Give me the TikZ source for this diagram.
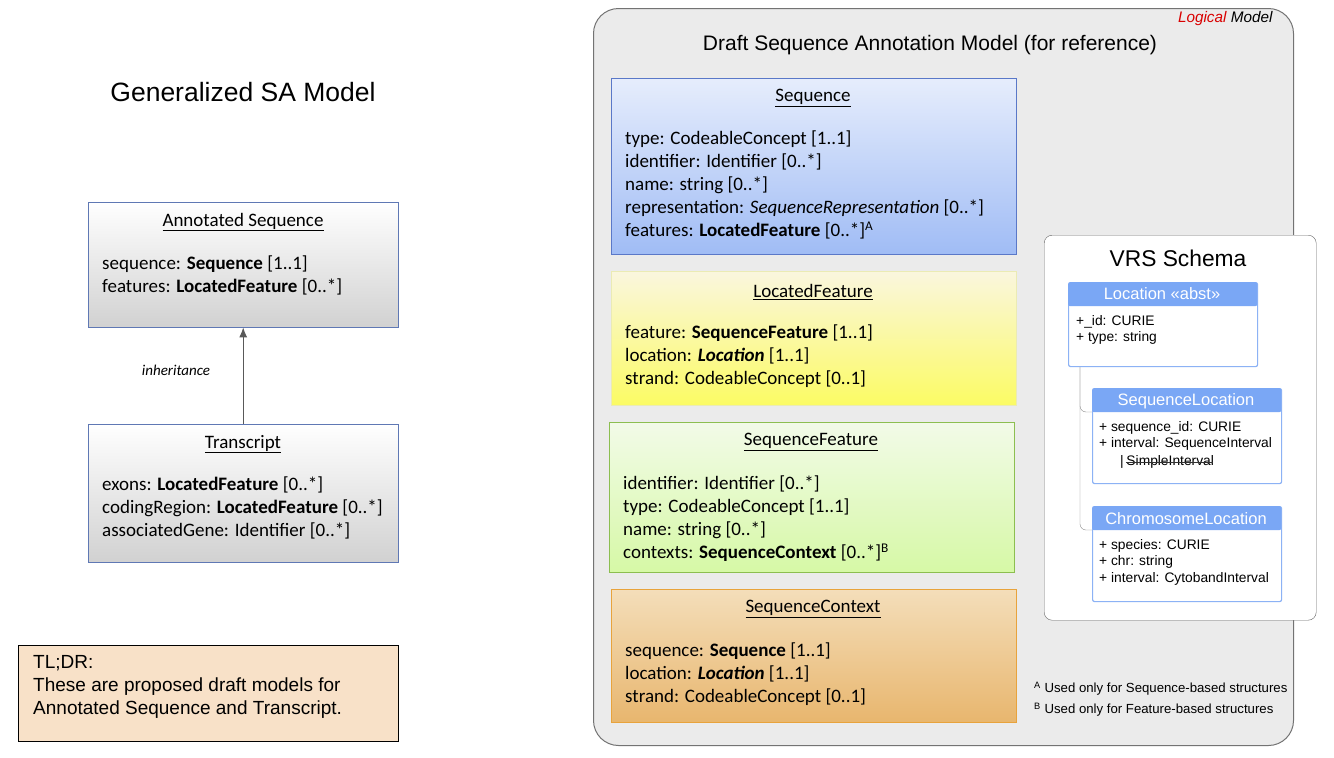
\documentclass[tikz,border=0pt]{standalone}
\usepackage{fontspec}
\usetikzlibrary{arrows.meta}
\setmainfont{Carlito}
\newfontfamily\arial{Liberation Sans}
\begin{document}
\begin{tikzpicture}[x=1pt,y=-1pt,
  umlbox/.style={draw, anchor=north west, inner sep=0pt},
  body/.style={anchor=north west, align=left, inner sep=0pt, font=\fontsize{19}{23}\selectfont},
  ttl/.style={font=\fontsize{19}{22}\selectfont},
  vrsbox/.style={draw=vblue, line width=1.2pt, fill=white, rounded corners=2pt, anchor=north west, inner sep=0pt},
  vhead/.style={fill=vhead, rounded corners=2pt, anchor=north west, inner sep=0pt},
  vtxt/.style={anchor=north west, align=left, inner sep=0pt, font=\arial\fontsize{13.8}{16.5}\selectfont},
  vtitle/.style={text=white, font=\arial\fontsize{16.5}{18}\selectfont}]
\definecolor{vblue}{HTML}{8CB2F5}
\definecolor{vhead}{HTML}{7AA7F5}
\definecolor{slate}{RGB}{95,120,180}
\useasboundingbox (0,0) rectangle (1334,758);
% left side
\node[font=\arial\fontsize{26.5}{30}\selectfont] (gtitle) at (243,92) {Generalized SA Model};
\node[umlbox, draw=slate, top color=white, bottom color=black!18, minimum width=310, minimum height=125] (ann) at (88,202) {};
\node[ttl] (annt) at (243,222) {\underline{Annotated Sequence}};
\node[body] (annb) at (102,256) {sequence: \textbf{Sequence} [1..1]\\features: \textbf{LocatedFeature} [0..*]};
\node[umlbox, draw=slate, top color=white, bottom color=black!18, minimum width=310, minimum height=138] (tr) at (88,424) {};
\node[ttl] (trt) at (243,444) {\underline{Transcript}};
\node[body] (trb) at (102,477) {exons: \textbf{LocatedFeature} [0..*]\\codingRegion: \textbf{LocatedFeature} [0..*]\\associatedGene: Identifier [0..*]};
\draw[black!65, line width=1pt, -{Latex[length=10pt,width=8pt]}] (tr.north) -- (ann.south);
\node[font=\itshape\fontsize{15}{17}\selectfont] (inh) at (176,370) {inheritance};
\node[umlbox, draw=black, fill={rgb,255:red,248;green,225;blue,200}, minimum width=380, minimum height=96] (tldr) at (18,645) {};
\node[anchor=north west, align=left, inner sep=0pt, font=\arial\fontsize{19}{23}\selectfont] (tldrt) at (33,655) {TL;DR:\\These are proposed draft models for\\Annotated Sequence and Transcript.};
% panel
\node[umlbox, draw=black!55, line width=1pt, fill=black!8, rounded corners=25, minimum width=700, minimum height=737] (panel) at (593,8) {};
\node[anchor=east, font=\arial\itshape\fontsize{15.3}{17}\selectfont] (logical) at (1276,19) {\textcolor{red!85!black}{Logical} Model};
\node[font=\arial\fontsize{21}{24}\selectfont] (dtitle) at (930,45) {Draft Sequence Annotation Model (for reference)};
% Sequence
\node[umlbox, draw={rgb,255:red,90;green,120;blue,200}, top color={rgb,255:red,230;green,237;blue,252}, bottom color={rgb,255:red,160;green,188;blue,245}, minimum width=405, minimum height=176] (seq) at (611,78) {};
\node[ttl] (seqt) at (813,98) {\underline{Sequence}};
\node[body] (seqb) at (625,131) {type: CodeableConcept [1..1]\\identifier: Identifier [0..*]\\name: string [0..*]\\representation: \textit{SequenceRepresentation} [0..*]\\features: \textbf{LocatedFeature} [0..*]\textsuperscript{A}};
% LocatedFeature
\node[umlbox, draw={rgb,255:red,235;green,235;blue,180}, top color={rgb,255:red,250;green,246;blue,222}, bottom color={rgb,255:red,251;green,251;blue,100}, minimum width=405, minimum height=134] (lf) at (611,271) {};
\node[ttl] (lft) at (813,292) {\underline{LocatedFeature}};
\node[body] (lfb) at (625,325) {feature: \textbf{SequenceFeature} [1..1]\\location: \textbf{\textit{Location}} [1..1]\\strand: CodeableConcept [0..1]};
% SequenceFeature
\node[umlbox, draw={rgb,255:red,140;green,190;blue,80}, top color={rgb,255:red,242;green,250;blue,232}, bottom color={rgb,255:red,214;green,249;blue,166}, minimum width=405, minimum height=150] (sf) at (609,422) {};
\node[ttl] (sft) at (811,442) {\underline{SequenceFeature}};
\node[body] (sfb) at (623,476) {identifier: Identifier [0..*]\\type: CodeableConcept [1..1]\\name: string [0..*]\\contexts: \textbf{SequenceContext} [0..*]\textsuperscript{B}};
% SequenceContext
\node[umlbox, draw={rgb,255:red,232;green,163;blue,60}, top color={rgb,255:red,244;green,222;blue,186}, bottom color={rgb,255:red,232;green,182;blue,110}, minimum width=405, minimum height=133] (sc) at (611,589) {};
\node[ttl] (sct) at (813,609) {\underline{SequenceContext}};
\node[body] (scb) at (625,643) {sequence: \textbf{Sequence} [1..1]\\location: \textbf{\textit{Location}} [1..1]\\strand: CodeableConcept [0..1]};
% footnotes
\node[anchor=west, font=\arial\fontsize{13.2}{15}\selectfont, inner sep=0pt] (fnA) at (1034,689) {\textsuperscript{A} Used only for Sequence-based structures};
\node[anchor=west, font=\arial\fontsize{13.2}{15}\selectfont, inner sep=0pt] (fnB) at (1034,710) {\textsuperscript{B} Used only for Feature-based structures};
% VRS
\node[umlbox, draw=black!60, fill=white, rounded corners=8, minimum width=272, minimum height=385] (vrs) at (1044,235) {};
\node[font=\arial\fontsize{22.8}{26}\selectfont] (vrst) at (1178,258) {VRS Schema};
\draw[black!45, rounded corners=6] (1080,366) |- (1092,412);
\draw[black!45, rounded corners=6] (1080,366) |- (1092,530);
\node[vrsbox, minimum width=189, minimum height=84] (loc) at (1068,282) {};
\node[vhead, minimum width=189, minimum height=24] (loch) at (1068,282) {};
\node[vtitle] (loct) at (1162,294) {Location «abst»};
\node[vtxt] (locb) at (1076,315) {+\_id: CURIE\\+ type: string};
\node[vrsbox, minimum width=189, minimum height=95] (sl) at (1092,388) {};
\node[vhead, minimum width=189, minimum height=24] (slh) at (1092,388) {};
\node[vtitle] (slt) at (1186,401) {SequenceLocation};
\node[vtxt] (slb) at (1099,421) {+ sequence\_id: CURIE\\+ interval: SequenceInterval};
\node[vtxt, anchor=west] (slbar) at (1120,462) {|};
\node[vtxt, anchor=west] (simple) at (slbar.east) {\,SimpleInterval};
\draw[black!80, line width=0.8pt] (simple.west) ++(2,0) -- ([xshift=-1pt]simple.east);
\node[vrsbox, minimum width=189, minimum height=95] (cl) at (1092,506) {};
\node[vhead, minimum width=189, minimum height=24] (clh) at (1092,506) {};
\node[vtitle] (clt) at (1186,519) {ChromosomeLocation};
\node[vtxt] (clb) at (1099,539) {+ species: CURIE\\+ chr: string\\+ interval: CytobandInterval};
\end{tikzpicture}
\end{document}
